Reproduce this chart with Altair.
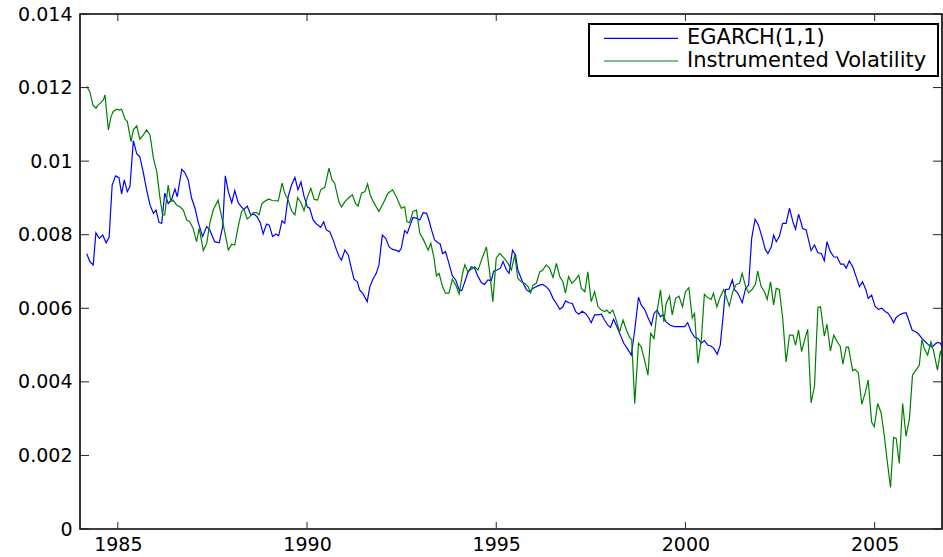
import altair as alt
import pandas as pd

# ---------------- data ----------------
egarch_year = [
    1984.18, 1984.26, 1984.35, 1984.42, 1984.51, 1984.60, 1984.69, 1984.77, 1984.85, 1984.94,
    1985.03, 1985.10, 1985.17, 1985.25, 1985.32, 1985.41, 1985.50, 1985.58, 1985.67, 1985.76,
    1985.85, 1985.94, 1986.01, 1986.09, 1986.16, 1986.24, 1986.33, 1986.42, 1986.51, 1986.57,
    1986.69, 1986.77, 1986.86, 1986.95, 1987.04, 1987.12, 1987.24, 1987.35, 1987.43, 1987.56,
    1987.68, 1987.77, 1987.84, 1987.92, 1988.01, 1988.09, 1988.18, 1988.27, 1988.33, 1988.42,
    1988.51, 1988.59, 1988.68, 1988.77, 1988.84, 1988.93, 1989.00, 1989.09, 1989.18, 1989.25,
    1989.34, 1989.41, 1989.50, 1989.59, 1989.68, 1989.76, 1989.84, 1989.92, 1990.01, 1990.07,
    1990.16, 1990.25, 1990.36, 1990.44, 1990.51, 1990.60, 1990.69, 1990.78, 1990.85, 1990.91,
    1991.00, 1991.09, 1991.17, 1991.24, 1991.33, 1991.39, 1991.48, 1991.59, 1991.66, 1991.75,
    1991.83, 1991.90, 1991.99, 1992.08, 1992.17, 1992.26, 1992.34, 1992.43, 1992.49, 1992.58,
    1992.65, 1992.71, 1992.80, 1992.89, 1992.98, 1993.07, 1993.16, 1993.22, 1993.29, 1993.37,
    1993.46, 1993.52, 1993.58, 1993.66, 1993.75, 1993.84, 1993.93, 1994.02, 1994.09, 1994.17,
    1994.25, 1994.34, 1994.43, 1994.52, 1994.61, 1994.69, 1994.78, 1994.87, 1994.93, 1995.02,
    1995.11, 1995.18, 1995.27, 1995.34, 1995.43, 1995.51, 1995.57, 1995.71, 1995.80, 1995.88,
    1995.97, 1996.06, 1996.15, 1996.23, 1996.32, 1996.41, 1996.50, 1996.59, 1996.68, 1996.76,
    1996.83, 1996.92, 1997.01, 1997.10, 1997.18, 1997.27, 1997.36, 1997.45, 1997.51, 1997.60,
    1997.69, 1997.78, 1997.86, 1997.95, 1998.02, 1998.10, 1998.19, 1998.28, 1998.37, 1998.46,
    1998.57, 1998.66, 1998.76, 1998.83, 1998.92, 1999.01, 1999.10, 1999.17, 1999.25, 1999.34,
    1999.40, 1999.49, 1999.60, 1999.71, 1999.84, 1999.98, 2000.06, 2000.15, 2000.24, 2000.33,
    2000.42, 2000.50, 2000.59, 2000.68, 2000.75, 2000.84, 2000.92, 2000.99, 2001.06, 2001.15,
    2001.24, 2001.30, 2001.38, 2001.50, 2001.59, 2001.67, 2001.75, 2001.84, 2001.93, 2002.02,
    2002.11, 2002.18, 2002.27, 2002.33, 2002.40, 2002.48, 2002.57, 2002.66, 2002.75, 2002.84,
    2002.91, 2002.99, 2003.10, 2003.19, 2003.32, 2003.41, 2003.50, 2003.59, 2003.67, 2003.74,
    2003.83, 2003.92, 2004.01, 2004.10, 2004.18, 2004.25, 2004.33, 2004.42, 2004.51, 2004.60,
    2004.68, 2004.77, 2004.83, 2004.92, 2005.01, 2005.10, 2005.19, 2005.28, 2005.36, 2005.43,
    2005.50, 2005.57, 2005.65, 2005.74, 2005.83, 2005.90, 2005.99, 2006.08, 2006.16, 2006.25,
    2006.34, 2006.43, 2006.52, 2006.60, 2006.66, 2006.74, 2006.78,
]
egarch_vol = [
    0.00748, 0.00727, 0.00718, 0.00805, 0.00790, 0.00799, 0.00778, 0.00793, 0.00935, 0.00960,
    0.00955, 0.00911, 0.00949, 0.00917, 0.00931, 0.01056, 0.01020, 0.01012, 0.00971, 0.00922,
    0.00881, 0.00858, 0.00867, 0.00833, 0.00831, 0.00913, 0.00885, 0.00896, 0.00924, 0.00903,
    0.00978, 0.00969, 0.00949, 0.00899, 0.00872, 0.00835, 0.00795, 0.00822, 0.00813, 0.00781,
    0.00778, 0.00822, 0.00960, 0.00917, 0.00887, 0.00920, 0.00887, 0.00875, 0.00869, 0.00878,
    0.00854, 0.00856, 0.00849, 0.00831, 0.00802, 0.00829, 0.00826, 0.00795, 0.00802, 0.00797,
    0.00838, 0.00831, 0.00903, 0.00935, 0.00956, 0.00922, 0.00943, 0.00905, 0.00875, 0.00872,
    0.00840, 0.00829, 0.00820, 0.00835, 0.00813, 0.00808, 0.00786, 0.00758, 0.00740, 0.00731,
    0.00758, 0.00745, 0.00709, 0.00679, 0.00672, 0.00650, 0.00639, 0.00618, 0.00659, 0.00681,
    0.00695, 0.00718, 0.00799, 0.00790, 0.00767, 0.00760, 0.00758, 0.00754, 0.00763, 0.00811,
    0.00804, 0.00822, 0.00847, 0.00845, 0.00840, 0.00860, 0.00858, 0.00840, 0.00813, 0.00786,
    0.00778, 0.00775, 0.00749, 0.00754, 0.00722, 0.00688, 0.00677, 0.00650, 0.00648, 0.00672,
    0.00697, 0.00713, 0.00709, 0.00686, 0.00669, 0.00665, 0.00677, 0.00675, 0.00701, 0.00704,
    0.00709, 0.00727, 0.00704, 0.00695, 0.00758, 0.00745, 0.00704, 0.00668, 0.00650, 0.00645,
    0.00654, 0.00659, 0.00663, 0.00665, 0.00659, 0.00648, 0.00627, 0.00613, 0.00597, 0.00604,
    0.00620, 0.00615, 0.00613, 0.00591, 0.00584, 0.00592, 0.00586, 0.00573, 0.00561, 0.00582,
    0.00582, 0.00584, 0.00568, 0.00554, 0.00548, 0.00570, 0.00550, 0.00527, 0.00505, 0.00491,
    0.00473, 0.00541, 0.00630, 0.00609, 0.00597, 0.00575, 0.00554, 0.00586, 0.00595, 0.00577,
    0.00582, 0.00563, 0.00554, 0.00550, 0.00550, 0.00550, 0.00561, 0.00536, 0.00522, 0.00518,
    0.00505, 0.00512, 0.00500, 0.00497, 0.00491, 0.00475, 0.00500, 0.00573, 0.00651, 0.00652,
    0.00677, 0.00650, 0.00642, 0.00615, 0.00654, 0.00663, 0.00790, 0.00842, 0.00826, 0.00795,
    0.00760, 0.00749, 0.00767, 0.00799, 0.00781, 0.00795, 0.00831, 0.00831, 0.00872, 0.00835,
    0.00815, 0.00856, 0.00817, 0.00813, 0.00757, 0.00772, 0.00751, 0.00749, 0.00729, 0.00781,
    0.00754, 0.00740, 0.00739, 0.00720, 0.00720, 0.00709, 0.00729, 0.00713, 0.00686, 0.00659,
    0.00672, 0.00650, 0.00627, 0.00636, 0.00606, 0.00597, 0.00600, 0.00591, 0.00586, 0.00575,
    0.00561, 0.00575, 0.00582, 0.00586, 0.00588, 0.00568, 0.00541, 0.00536, 0.00530, 0.00518,
    0.00509, 0.00500, 0.00495, 0.00503, 0.00507, 0.00505, 0.00495,
]

instr_year = [
    1984.18, 1984.26, 1984.34, 1984.42, 1984.48, 1984.55, 1984.62, 1984.66, 1984.75, 1984.82,
    1984.88, 1984.97, 1985.04, 1985.10, 1985.19, 1985.25, 1985.35, 1985.41, 1985.50, 1985.58,
    1985.67, 1985.76, 1985.85, 1985.94, 1986.03, 1986.11, 1986.18, 1986.24, 1986.33, 1986.40,
    1986.46, 1986.55, 1986.64, 1986.73, 1986.82, 1986.90, 1986.99, 1987.08, 1987.15, 1987.26,
    1987.35, 1987.43, 1987.52, 1987.65, 1987.78, 1987.92, 1988.01, 1988.09, 1988.18, 1988.27,
    1988.33, 1988.42, 1988.49, 1988.58, 1988.67, 1988.73, 1988.81, 1988.90, 1988.99, 1989.08,
    1989.24, 1989.34, 1989.41, 1989.50, 1989.59, 1989.68, 1989.75, 1989.84, 1989.92, 1990.01,
    1990.10, 1990.19, 1990.28, 1990.36, 1990.47, 1990.58, 1990.66, 1990.73, 1990.84, 1990.91,
    1991.00, 1991.13, 1991.20, 1991.28, 1991.35, 1991.44, 1991.53, 1991.60, 1991.67, 1991.75,
    1991.90, 1992.01, 1992.14, 1992.26, 1992.36, 1992.49, 1992.58, 1992.64, 1992.71, 1992.80,
    1992.89, 1992.98, 1993.07, 1993.14, 1993.20, 1993.27, 1993.35, 1993.42, 1993.49, 1993.58,
    1993.66, 1993.75, 1993.84, 1993.93, 1994.02, 1994.11, 1994.17, 1994.25, 1994.34, 1994.43,
    1994.52, 1994.61, 1994.74, 1994.83, 1994.91, 1995.00, 1995.09, 1995.18, 1995.25, 1995.31,
    1995.40, 1995.49, 1995.57, 1995.66, 1995.75, 1995.84, 1995.91, 1995.97, 1996.06, 1996.15,
    1996.23, 1996.32, 1996.41, 1996.50, 1996.59, 1996.68, 1996.76, 1996.83, 1996.91, 1997.00,
    1997.09, 1997.18, 1997.25, 1997.34, 1997.42, 1997.51, 1997.60, 1997.69, 1997.78, 1997.86,
    1997.92, 1998.00, 1998.08, 1998.17, 1998.26, 1998.35, 1998.44, 1998.52, 1998.58, 1998.66,
    1998.76, 1998.83, 1998.92, 1999.01, 1999.08, 1999.17, 1999.25, 1999.34, 1999.43, 1999.49,
    1999.58, 1999.65, 1999.74, 1999.83, 1999.92, 2000.00, 2000.09, 2000.18, 2000.24, 2000.33,
    2000.42, 2000.50, 2000.59, 2000.68, 2000.74, 2000.83, 2000.92, 2001.01, 2001.08, 2001.16,
    2001.25, 2001.34, 2001.43, 2001.50, 2001.59, 2001.67, 2001.76, 2001.85, 2001.91, 2002.00,
    2002.09, 2002.16, 2002.25, 2002.33, 2002.40, 2002.48, 2002.57, 2002.66, 2002.75, 2002.84,
    2002.91, 2002.99, 2003.07, 2003.16, 2003.23, 2003.32, 2003.41, 2003.50, 2003.57, 2003.67,
    2003.74, 2003.83, 2003.92, 2004.01, 2004.09, 2004.16, 2004.25, 2004.31, 2004.42, 2004.48,
    2004.57, 2004.66, 2004.75, 2004.83, 2004.92, 2004.99, 2005.08, 2005.17, 2005.26, 2005.34,
    2005.42, 2005.50, 2005.57, 2005.65, 2005.74, 2005.83, 2005.92, 2006.00, 2006.09, 2006.18,
    2006.25, 2006.31, 2006.40, 2006.49, 2006.56, 2006.66, 2006.74, 2006.78,
]
instr_vol = [
    0.01203, 0.01189, 0.01153, 0.01144, 0.01153, 0.01159, 0.01167, 0.01180, 0.01085, 0.01121,
    0.01135, 0.01141, 0.01139, 0.01141, 0.01114, 0.01108, 0.01053, 0.01085, 0.01096, 0.01060,
    0.01071, 0.01085, 0.01071, 0.01008, 0.00971, 0.00903, 0.00854, 0.00854, 0.00935, 0.00890,
    0.00894, 0.00881, 0.00876, 0.00867, 0.00840, 0.00835, 0.00817, 0.00781, 0.00817, 0.00757,
    0.00777, 0.00831, 0.00867, 0.00894, 0.00831, 0.00758, 0.00774, 0.00772, 0.00822, 0.00863,
    0.00869, 0.00843, 0.00849, 0.00860, 0.00860, 0.00854, 0.00885, 0.00892, 0.00897, 0.00893,
    0.00892, 0.00940, 0.00913, 0.00894, 0.00865, 0.00854, 0.00901, 0.00887, 0.00865, 0.00903,
    0.00926, 0.00896, 0.00894, 0.00922, 0.00929, 0.00981, 0.00949, 0.00940, 0.00890, 0.00875,
    0.00890, 0.00903, 0.00908, 0.00885, 0.00878, 0.00913, 0.00917, 0.00938, 0.00908, 0.00890,
    0.00863, 0.00885, 0.00913, 0.00922, 0.00903, 0.00872, 0.00876, 0.00835, 0.00833, 0.00863,
    0.00867, 0.00804, 0.00788, 0.00772, 0.00758, 0.00777, 0.00740, 0.00688, 0.00695, 0.00659,
    0.00641, 0.00641, 0.00679, 0.00663, 0.00639, 0.00695, 0.00718, 0.00699, 0.00706, 0.00713,
    0.00704, 0.00731, 0.00767, 0.00695, 0.00618, 0.00736, 0.00749, 0.00740, 0.00731, 0.00722,
    0.00704, 0.00745, 0.00681, 0.00672, 0.00668, 0.00659, 0.00642, 0.00663, 0.00668, 0.00699,
    0.00704, 0.00718, 0.00709, 0.00684, 0.00722, 0.00686, 0.00672, 0.00641, 0.00686, 0.00668,
    0.00677, 0.00690, 0.00654, 0.00645, 0.00699, 0.00618, 0.00645, 0.00604, 0.00595, 0.00591,
    0.00595, 0.00586, 0.00595, 0.00568, 0.00536, 0.00568, 0.00541, 0.00522, 0.00514, 0.00341,
    0.00505, 0.00495, 0.00459, 0.00418, 0.00532, 0.00518, 0.00591, 0.00650, 0.00563, 0.00613,
    0.00633, 0.00582, 0.00627, 0.00633, 0.00604, 0.00645, 0.00656, 0.00574, 0.00586, 0.00450,
    0.00514, 0.00638, 0.00629, 0.00624, 0.00641, 0.00604, 0.00631, 0.00651, 0.00631, 0.00606,
    0.00645, 0.00665, 0.00668, 0.00695, 0.00659, 0.00642, 0.00651, 0.00665, 0.00701, 0.00659,
    0.00645, 0.00624, 0.00672, 0.00609, 0.00654, 0.00651, 0.00573, 0.00454, 0.00527, 0.00527,
    0.00500, 0.00541, 0.00482, 0.00518, 0.00543, 0.00343, 0.00388, 0.00602, 0.00604, 0.00524,
    0.00557, 0.00484, 0.00527, 0.00509, 0.00497, 0.00448, 0.00495, 0.00494, 0.00430, 0.00434,
    0.00425, 0.00339, 0.00370, 0.00405, 0.00291, 0.00278, 0.00341, 0.00316, 0.00250, 0.00178,
    0.00113, 0.00249, 0.00246, 0.00178, 0.00341, 0.00252, 0.00300, 0.00418, 0.00432, 0.00445,
    0.00515, 0.00491, 0.00473, 0.00509, 0.00482, 0.00432, 0.00484, 0.00464,
]

series_names = ["EGARCH(1,1)", "Instrumented Volatility"]
series_colors = ["#0000FF", "#008000"]
y_ticks = [0, 0.002, 0.004, 0.006, 0.008, 0.01, 0.012, 0.014]
x_ticks = [1985, 1990, 1995, 2000, 2005]
x_domain = [1984.0, 2006.78]
y_domain = [0, 0.014]

# ---------------- layout ----------------
W, H = 862, 515
FONT = "DejaVu Sans"
TICK_COLOR = "#222222"

df_e = pd.DataFrame({"year": egarch_year, "vol": egarch_vol})
df_i = pd.DataFrame({"year": instr_year, "vol": instr_vol})

xscale = alt.Scale(domain=x_domain, nice=False, zero=False)
yscale = alt.Scale(domain=y_domain, nice=False)

xaxis = alt.Axis(values=x_ticks, format="d", tickSize=0, domain=False, grid=False,
                 labelFont=FONT, labelFontSize=19, labelColor="black",
                 labelPadding=6, title=None, labelFlush=False)
yaxis = alt.Axis(values=y_ticks, format="~g", tickSize=0, domain=False, grid=False,
                 labelFont=FONT, labelFontSize=19, labelColor="black",
                 labelPadding=8, title=None)


def X(field):
    return alt.X(field, scale=xscale, axis=xaxis)


def Y(field):
    return alt.Y(field, scale=yscale, axis=yaxis)


line_e = alt.Chart(df_e).mark_line(color=series_colors[0], strokeWidth=1.2, clip=True).encode(
    x=X("year:Q"), y=Y("vol:Q"))
line_i = alt.Chart(df_i).mark_line(color=series_colors[1], strokeWidth=1.2, clip=True).encode(
    x=X("year:Q"), y=Y("vol:Q"))

yt = pd.DataFrame({"year": [x_domain[0]] * len(y_ticks), "vol": y_ticks})
xt = pd.DataFrame({"year": x_ticks, "vol": [0.0] * len(x_ticks)})

ytick_left = alt.Chart(yt).mark_rule(color=TICK_COLOR, strokeWidth=1).encode(
    y=Y("vol:Q"), x=alt.value(0), x2=alt.value(9))
ytick_right = alt.Chart(yt).mark_rule(color=TICK_COLOR, strokeWidth=1).encode(
    y=Y("vol:Q"), x=alt.value(W - 9), x2=alt.value(W))
xtick_bottom = alt.Chart(xt).mark_rule(color=TICK_COLOR, strokeWidth=1).encode(
    x=X("year:Q"), y=alt.value(H - 7), y2=alt.value(H))
xtick_top = alt.Chart(xt).mark_rule(color=TICK_COLOR, strokeWidth=1).encode(
    x=X("year:Q"), y=alt.value(0), y2=alt.value(7))

# ---------------- legend (drawn by hand, MATLAB style) ----------------
one = pd.DataFrame({"k": [0]})
leg_box = alt.Chart(one).mark_rect(fill="white", stroke="black", strokeWidth=2).encode(
    x=alt.value(509), x2=alt.value(858), y=alt.value(10), y2=alt.value(62))

legend_layers = [leg_box]
row_y = [24.3, 47.0]
for name, color, yy in zip(series_names, series_colors, row_y):
    d = pd.DataFrame({"name": [name]})
    legend_layers.append(
        alt.Chart(d).mark_rule(color=color, strokeWidth=1.2).encode(
            x=alt.value(524), x2=alt.value(598), y=alt.value(yy)))
    legend_layers.append(
        alt.Chart(d).mark_text(align="left", baseline="middle", font=FONT,
                               fontSize=21, color="black").encode(
            x=alt.value(607), y=alt.value(yy), text="name:N"))

chart = alt.layer(
    line_e, line_i, ytick_left, ytick_right, xtick_bottom, xtick_top, *legend_layers
).properties(
    width=W, height=H,
    padding={"left": 80, "top": 14, "right": 1, "bottom": 28},
    autosize=alt.AutoSizeParams(type="none"),
    background="white",
).configure_view(stroke="black", strokeWidth=1.6)

chart.save("out.html", embed_options={"renderer": "svg", "actions": False})
